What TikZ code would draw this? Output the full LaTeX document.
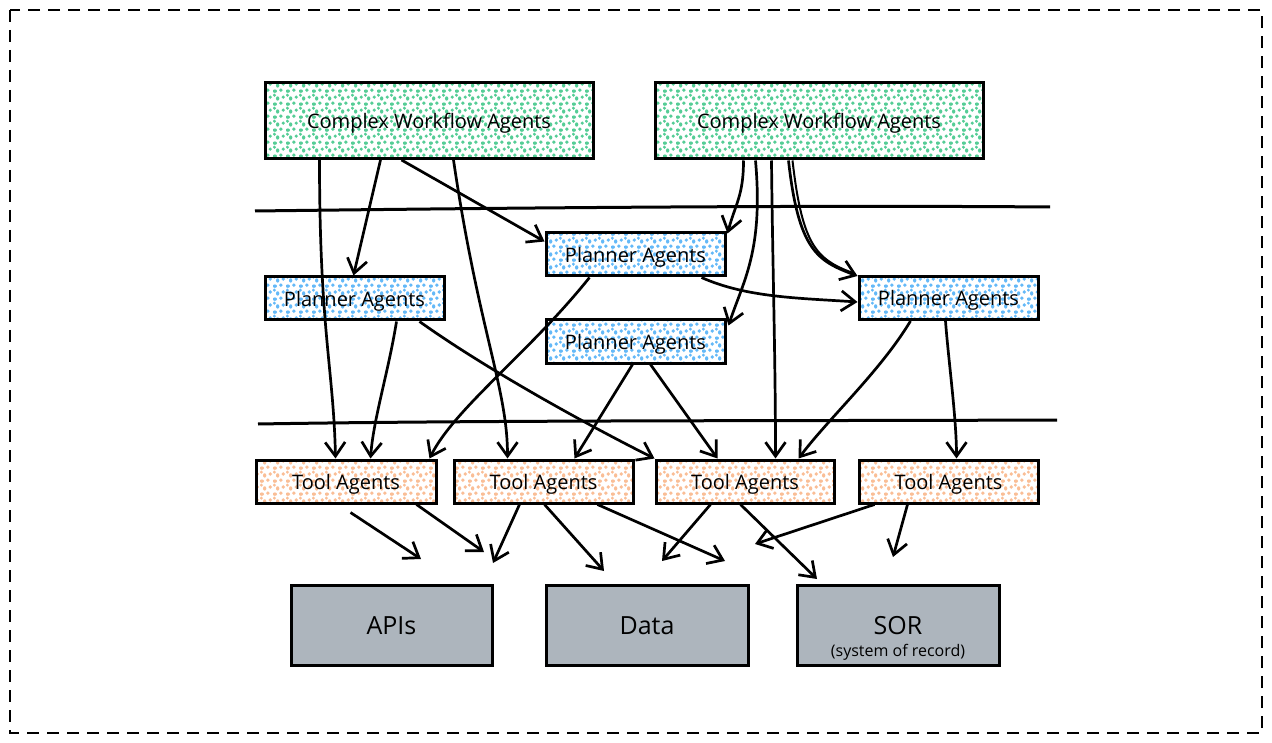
\documentclass[tikz,border=0pt]{standalone}
\usepackage{fontspec}
\setmainfont{Open Sans}
\usetikzlibrary{arrows.meta,patterns.meta,calc}

\tikzdeclarepattern{
  name=blobs,
  type=uncolored,
  bottom left={(0pt,0pt)},
  top right={(13pt,13pt)},
  tile size={(13pt,13pt)},
  code={
    \fill (2pt,2pt) ellipse (2.3pt and 1.8pt);
    \fill (8.5pt,3pt) circle (2pt);
    \fill (5pt,8pt) ellipse (1.8pt and 2.3pt);
    \fill (11pt,9.5pt) circle (1.9pt);
    \fill (1.5pt,11.5pt) circle (1.8pt);
  }
}

\definecolor{cwgreen}{RGB}{85,205,150}
\definecolor{plblue}{RGB}{100,185,248}
\definecolor{toolpeach}{RGB}{250,190,150}
\definecolor{sysgray}{RGB}{173,181,189}

\begin{document}
\begin{tikzpicture}[x=1pt,y=-1pt,
  box/.style={draw=black, line width=3pt, inner sep=0pt, text=black,
    font=\fontsize{20}{24}\selectfont, text height=16pt, text depth=0pt},
  cwbox/.style={box, minimum width=328pt, minimum height=76pt,
    preaction={fill=white}, pattern=blobs, pattern color=cwgreen},
  plbox/.style={box, minimum width=179pt, minimum height=43pt,
    preaction={fill=white}, pattern=blobs, pattern color=plblue},
  toolbox/.style={box, minimum width=179pt, minimum height=43pt,
    preaction={fill=white}, pattern=blobs, pattern color=toolpeach},
  sysbox/.style={box, minimum width=202pt, minimum height=80pt, fill=sysgray,
    font=\fontsize{25}{28}\selectfont, text height=19pt},
  conn/.style={line width=2.7pt, draw=black,
    -{Straight Barb[length=14pt,width=20pt,line width=2.7pt]}},
  sepline/.style={line width=3pt, draw=black},
  frame/.style={line width=2.6pt, draw=black, dash pattern=on 12pt off 8pt}
]
\useasboundingbox (0,0) rectangle (1272,743);
\draw[frame] (10,10) rectangle (1262,733);

% separator lines
\draw[sepline] (255,211) .. controls (500,208) and (800,205) .. (1050,207);
\draw[sepline] (258,424) .. controls (500,420) and (800,421) .. (1057,420);

% nodes
\node[cwbox] (cw1) at (429,120.5) {Complex Workflow Agents};
\node[cwbox] (cw2) at (819,121) {Complex Workflow Agents};

\node[plbox] (p1) at (354.5,298.5) {Planner Agents};
\node[plbox] (p2) at (635.5,254.5) {Planner Agents};
\node[plbox] (p3) at (635.5,341.5) {Planner Agents};
\node[plbox] (p4) at (948.5,298) {Planner Agents};

\node[toolbox, minimum width=180pt] (t1) at (346,481.5) {Tool Agents};
\node[toolbox] (t2) at (543.5,481.5) {Tool Agents};
\node[toolbox, minimum width=178pt] (t3) at (745,481.5) {Tool Agents};
\node[toolbox] (t4) at (948.5,481.5) {Tool Agents};

\node[sysbox, minimum width=201pt] (apis) at (391.5,625) {APIs};
\node[sysbox] (data) at (647,625) {Data};
\node[sysbox, label={[font=\fontsize{16}{18}\selectfont, anchor=south,
  inner sep=0pt, yshift=6pt, text=black]south:(system of record)}] (sor) at (898,625) {SOR};

% free arrow ends below the tool agents
\coordinate (e1) at (421,559);
\coordinate (e2) at (484,552);
\coordinate (e3) at (493,563);
\coordinate (e4) at (604,571);
\coordinate (e5) at (725,561);
\coordinate (e6) at (662,561);
\coordinate (e7) at (817,579);
\coordinate (e8) at (755,544);
\coordinate (e9) at (893,557);

% complex workflow 1
\draw[conn] ($(cw1.south west)+(56,0)$) .. controls +(0,170) and +(-2,-90) .. ($(t1.north west)+(81,0)$);
\draw[conn] ($(cw1.south west)+(117,0)$) -- ($(p1.north west)+(90,0)$);
\draw[conn] ($(cw1.south west)+(138,0)$) -- ($(p2.north west)+(0,10)$);
\draw[conn] ($(cw1.south west)+(190,0)$) .. controls +(25,170) and +(0,-70) .. ($(t2.north west)+(55,0)$);

% complex workflow 2
\draw[conn] ($(cw2.south west)+(90,0)$) .. controls +(0,35) and +(8,-30) .. ($(p2.north east)+(1,2)$);
\draw[conn] ($(cw2.south west)+(102,0)$) .. controls +(8,90) and +(15,-45) .. ($(p3.north east)+(2,7)$);
\draw[conn] ($(cw2.south west)+(118,0)$) .. controls +(1,100) and +(0,-100) .. ($(t3.north west)+(121,0)$);
\draw[conn] ($(cw2.south west)+(135,0)$) .. controls +(10,90) and +(-40,-15) .. ($(p4.north west)+(0,1)$);
\draw[line width=2pt] ($(cw2.south west)+(139,0)$) .. controls +(10,88) and +(-38,-14) .. ($(p4.north west)+(-2,-1)$);

% planner 2
\draw[conn] ($(p2.south west)+(45,0)$) .. controls +(-60,75) and +(25,-50) .. ($(t1.north east)+(-8,0)$);
\draw[conn] ($(p2.south east)+(-25,0)$) .. controls +(45,20) and +(-60,-4) .. ($(p4.west)+(0,4)$);

% planner 1
\draw[conn] ($(p1.south west)+(133,0)$) .. controls +(-8,50) and +(3,-40) .. ($(t1.north west)+(116,0)$);
\draw[conn] ($(p1.south west)+(156,0)$) .. controls +(70,50) and +(-60,-30) .. ($(t3.north west)+(0,0)$);

% planner 3
\draw[conn] ($(p3.south west)+(88,0)$) -- ($(t2.north east)+(-60,0)$);
\draw[conn] ($(p3.south west)+(106,0)$) -- ($(t3.north west)+(63,0)$);

% planner 4
\draw[conn] ($(p4.south west)+(53,0)$) .. controls +(-30,50) and +(30,-40) .. ($(t3.north east)+(-37,0)$);
\draw[conn] ($(p4.south west)+(88,0)$) .. controls +(3,40) and +(0,-40) .. ($(t4.north west)+(99,0)$);

% tool agents to systems (free ends)
\draw[conn] ($(t1.south west)+(96,8)$) -- (e1);
\draw[conn] ($(t1.south west)+(162,0)$) -- (e2);
\draw[conn] ($(t2.south west)+(67,0)$) -- (e3);
\draw[conn] ($(t2.south west)+(92,0)$) -- (e4);
\draw[conn] ($(t2.south west)+(145,0)$) -- (e5);
\draw[conn] ($(t3.south west)+(56,0)$) -- (e6);
\draw[conn] ($(t3.south west)+(86,0)$) -- (e7);
\draw[conn] ($(t4.south west)+(17,0)$) -- (e8);
\draw[conn] ($(t4.south west)+(50,0)$) -- (e9);
\end{tikzpicture}
\end{document}
